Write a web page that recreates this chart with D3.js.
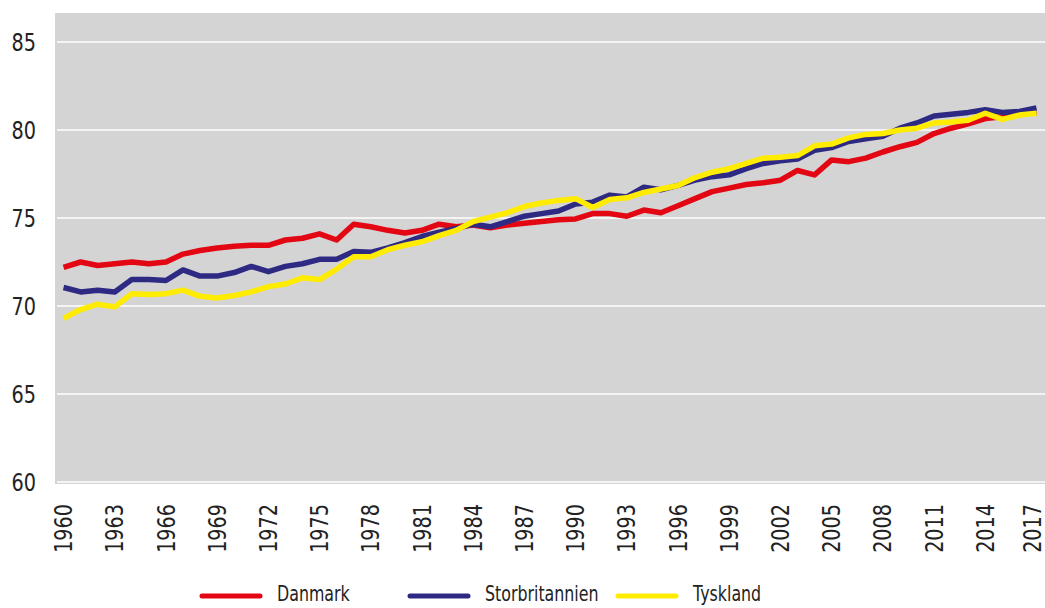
<!DOCTYPE html>
<html>
<head>
<meta charset="utf-8">
<script src="https://d3js.org/d3.v7.min.js"></script>
<style>
  body { margin: 0; background: #fff; }
  text { font-family: "DejaVu Sans", sans-serif; fill: #222; }
</style>
</head>
<body>
<div id="chart"></div>
<script>
var years = d3.range(1960, 2018);

var danmark = [72.2, 72.5, 72.3, 72.4, 72.5, 72.4, 72.5, 72.95, 73.15, 73.3,
  73.4, 73.45, 73.45, 73.75, 73.85, 74.1, 73.75, 74.65, 74.5, 74.3,
  74.15, 74.3, 74.65, 74.5, 74.6, 74.45, 74.6, 74.7, 74.8, 74.9,
  74.95, 75.25, 75.25, 75.1, 75.45, 75.3, 75.7, 76.1, 76.5, 76.7,
  76.9, 77.0, 77.15, 77.7, 77.45, 78.3, 78.2, 78.4, 78.75, 79.05,
  79.3, 79.8, 80.1, 80.35, 80.65, 80.75, 80.9, 81.0];

var storbritannien = [71.05, 70.8, 70.9, 70.8, 71.5, 71.5, 71.45, 72.05, 71.7, 71.7,
  71.9, 72.25, 71.95, 72.25, 72.4, 72.65, 72.65, 73.1, 73.05, 73.3,
  73.6, 73.95, 74.2, 74.4, 74.65, 74.5, 74.8, 75.1, 75.25, 75.4,
  75.8, 75.9, 76.3, 76.2, 76.75, 76.6, 76.85, 77.15, 77.35, 77.45,
  77.8, 78.1, 78.25, 78.35, 78.85, 79.0, 79.35, 79.5, 79.65, 80.1,
  80.4, 80.8, 80.9, 81.0, 81.15, 81.0, 81.05, 81.25];

var tyskland = [69.3, 69.8, 70.1, 69.95, 70.7, 70.65, 70.7, 70.9, 70.55, 70.45,
  70.6, 70.8, 71.1, 71.25, 71.6, 71.5, 72.1, 72.8, 72.8, 73.2,
  73.45, 73.65, 74.0, 74.3, 74.8, 75.05, 75.3, 75.65, 75.85, 76.0,
  76.1, 75.6, 76.05, 76.15, 76.45, 76.65, 76.85, 77.3, 77.6, 77.8,
  78.1, 78.4, 78.45, 78.55, 79.1, 79.2, 79.55, 79.75, 79.8, 80.0,
  80.1, 80.4, 80.45, 80.55, 80.95, 80.6, 80.85, 80.95];

var seriesNames = ["Danmark", "Storbritannien", "Tyskland"];
var seriesColors = ["#e30613", "#2e2a84", "#ffec00"];
var yTicks = [60, 65, 70, 75, 80, 85];

var width = 1045, height = 608;
var plotLeft = 55, plotRight = 1045, plotTop = 13, plotBottom = 484;

var svg = d3.select("#chart").append("svg")
  .attr("width", width)
  .attr("height", height);

var x = d3.scalePoint().domain(years).range([plotLeft, plotRight]).padding(0.5);
var y = d3.scaleLinear().domain([60, 85]).range([482, 42]);

svg.append("rect")
  .attr("x", plotLeft).attr("y", plotTop)
  .attr("width", plotRight - plotLeft).attr("height", plotBottom - plotTop)
  .attr("fill", "#d4d4d4");

// gridlines
svg.append("g").selectAll("line")
  .data(yTicks)
  .enter().append("line")
  .attr("x1", plotLeft + 2).attr("x2", plotRight)
  .attr("y1", function(d){ return y(d); })
  .attr("y2", function(d){ return y(d); })
  .attr("stroke", "#f4f4f4")
  .attr("stroke-width", 2);

// y axis labels (narrowed to mimic the condensed face)
var yAxis = d3.axisLeft(y).tickValues(yTicks).tickSize(0).tickPadding(0);
var yg = svg.append("g").attr("transform", "translate(36,0)").call(yAxis);
yg.select(".domain").remove();
yg.selectAll(".tick text")
  .style("font-size", "24px")
  .attr("fill", "#222")
  .attr("x", 0)
  .attr("dy", "0.36em")
  .attr("transform", "scale(0.8,1)");

// x axis labels, rotated
var xAxis = d3.axisBottom(x)
  .tickValues(years.filter(function(d){ return (d - 1960) % 3 === 0; }))
  .tickSize(0).tickPadding(0);
var xg = svg.append("g").attr("transform", "translate(0,504)").call(xAxis);
xg.select(".domain").remove();
xg.selectAll(".tick")
  .attr("transform", function(d){ return "translate(" + Math.min(x(d), 1032) + ",0)"; });
xg.selectAll("text")
  .style("font-size", "24px")
  .attr("fill", "#222")
  .attr("text-anchor", "end")
  .attr("dy", "0.36em")
  .attr("y", 0)
  .attr("transform", "rotate(-90) scale(0.8,1)");

var allSeries = [danmark, storbritannien, tyskland];
var line = d3.line()
  .x(function(d, i){ return x(years[i]); })
  .y(function(d){ return y(d); });

svg.append("g").selectAll("path")
  .data(allSeries)
  .enter().append("path")
  .attr("d", line)
  .attr("fill", "none")
  .attr("stroke", function(d, i){ return seriesColors[i]; })
  .attr("stroke-width", 5.5)
  .attr("stroke-linejoin", "round");

// legend
var legendX = [202, 410, 618];
var legend = svg.append("g").selectAll("g")
  .data(seriesNames)
  .enter().append("g")
  .attr("transform", function(d, i){ return "translate(" + legendX[i] + ",596)"; });
legend.append("line")
  .attr("x1", 0).attr("x2", 58)
  .attr("stroke", function(d, i){ return seriesColors[i]; })
  .attr("stroke-width", 5)
  .attr("stroke-linecap", "round");
legend.append("text")
  .attr("transform", "translate(75,0) scale(0.72,1)")
  .attr("y", 5)
  .style("font-size", "22px")
  .text(function(d){ return d; });
</script>
</body>
</html>
